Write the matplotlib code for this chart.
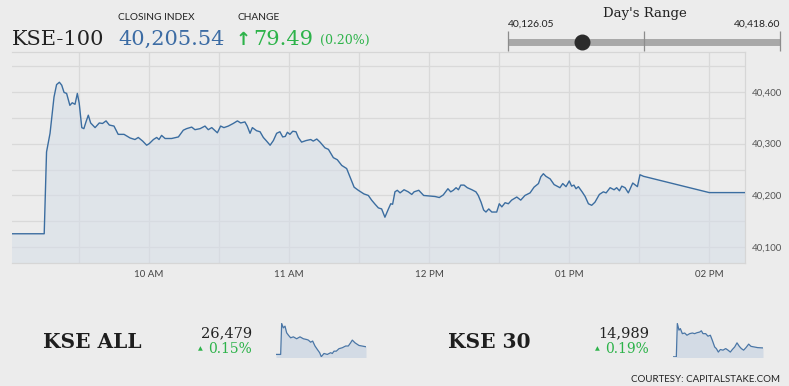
import numpy as np
import matplotlib
matplotlib.use("Agg")
import matplotlib.pyplot as plt
from matplotlib.ticker import FixedLocator, FuncFormatter

# --- data (minutes after 09:00, index level) ---
prev_close = 40126.05
day_high = 40418.60
close_val = 40205.54
change = 79.49
change_pct = 0.20

kse_t = [0, 15.1, 16.1, 17.6, 19.3, 20.4, 21.6, 22.6, 23.6, 24.7, 26.1, 27.1, 28.3, 29.3, 30.1,
         31.2, 32.1, 33.0, 34.0, 35.0, 36.9, 38.7, 40.1, 41.6, 43.0, 45.0, 46.8, 49.3, 51.9,
         54.0, 55.4, 57.3, 59.0, 60.1, 61.9, 63.3, 64.3, 65.4, 66.9, 69.7, 72.6, 74.7, 76.1,
         78.3, 79.7, 81.9, 84.0, 85.4, 86.9, 89.3, 90.7, 92.1, 94.0, 96.1, 97.9, 99.3, 101.1,
         102.1, 103.3, 104.3, 106.1, 107.6, 109.0, 110.4, 111.9, 113.3, 114.7, 116.1, 117.3,
         118.4, 119.3, 120.4, 121.6, 123.0, 124.0, 125.4, 127.3, 129.3, 130.4, 131.9, 133.3,
         135.4, 136.9, 139.0, 140.7, 142.6, 144.7, 146.1, 147.9, 149.7, 151.1, 152.1, 154.0,
         155.4, 156.9, 158.3, 159.7, 161.1, 162.6, 163.6, 164.4, 165.4, 166.4, 167.6, 169.3,
         171.1, 172.6, 173.6, 175.6, 177.7, 180.1, 182.6, 184.4, 186.1, 188.1, 189.3, 190.4,
         191.6, 192.6, 193.6, 195.0, 196.4, 198.4, 200.1, 201.1, 202.3, 203.4, 204.4, 205.6,
         206.9, 209.0, 210.1, 211.2, 212.6, 214.0, 215.4, 217.6, 219.3, 221.1, 223.3, 225.0,
         226.9, 227.9, 229.0, 230.1, 231.9, 233.6, 236.1, 237.3, 238.7, 240.1, 241.1, 242.1,
         243.0, 244.0, 245.6, 246.9, 248.3, 249.7, 251.1, 253.0, 254.7, 255.9, 257.6, 259.3,
         260.4, 261.6, 262.6, 264.0, 265.4, 267.3, 269.3, 270.4, 271.9, 300.1, 315.4]
kse_v = [40126.05, 40126.05, 40284, 40320, 40390, 40414, 40418.6, 40413, 40399, 40397, 40374,
         40379, 40376, 40397, 40378, 40331, 40329, 40342, 40355, 40340, 40331, 40340, 40339,
         40344, 40336, 40334, 40318, 40318, 40311, 40308, 40312, 40305, 40297, 40300, 40308,
         40312, 40308, 40316, 40310, 40310, 40313, 40326, 40329, 40332, 40327, 40329, 40334,
         40327, 40331, 40321, 40334, 40331, 40334, 40339, 40344, 40340, 40342, 40334, 40320,
         40331, 40325, 40323, 40312, 40305, 40297, 40306, 40320, 40323, 40313, 40314, 40322,
         40318, 40324, 40323, 40312, 40303, 40306, 40308, 40305, 40309, 40303, 40292, 40289,
         40273, 40269, 40258, 40252, 40236, 40216, 40210, 40206, 40203, 40200, 40191, 40183,
         40176, 40174, 40158, 40174, 40184, 40183, 40207, 40210, 40205, 40211, 40207, 40202,
         40207, 40210, 40200, 40199, 40198, 40196, 40201, 40213, 40207, 40210, 40215, 40211,
         40220, 40220, 40215, 40211, 40207, 40200, 40187, 40172, 40168, 40174, 40168, 40168,
         40184, 40178, 40186, 40184, 40191, 40197, 40191, 40200, 40205, 40216, 40223, 40236,
         40242, 40237, 40232, 40221, 40215, 40223, 40217, 40228, 40218, 40220, 40213, 40217,
         40207, 40198, 40184, 40181, 40187, 40202, 40207, 40205, 40215, 40211, 40215, 40209,
         40218, 40215, 40205, 40224, 40217, 40240, 40237, 40205.54, 40205.54]

hour_ticks = [60, 120, 180, 240, 300]
hour_labels = ["10 AM", "11 AM", "12 PM", "01 PM", "02 PM"]

all_close = "26,479"
all_pct = "0.15%"
all_t = [0, 16.3, 19.8, 25.6, 31.4, 37.2, 44.2, 51.2, 60.5, 72.1, 83.7, 95.4, 107.0, 112.8,
         120.9, 127.9, 136.0, 144.2, 152.3, 158.1, 167.4, 179.0, 190.7, 196.5, 202.3, 210.4,
         219.7, 231.3, 243.0, 252.3, 260.4, 266.2, 275.5, 289.5, 314.0]
all_v = [26439, 26439, 26601, 26578, 26587, 26552, 26538, 26526, 26531, 26521, 26531, 26521,
         26517, 26514, 26503, 26509, 26483, 26465, 26448, 26427, 26444, 26439, 26448, 26444,
         26456, 26456, 26469, 26474, 26483, 26483, 26500, 26514, 26500, 26486, 26479]

k30_close = "14,989"
k30_pct = "0.19%"
k30_t = [0, 11.6, 15.1, 20.9, 25.6, 32.6, 40.7, 48.8, 58.2, 67.5, 75.6, 83.7, 93.0, 98.9,
         104.7, 114.0, 122.1, 130.3, 137.2, 145.4, 151.2, 158.2, 165.2, 174.5, 183.8, 191.9,
         200.1, 207.0, 215.2, 223.3, 231.4, 238.4, 246.5, 254.7, 264.0, 272.1, 283.7, 295.3, 314.0]
k30_v = [14961, 14961, 15066, 15045, 15050, 15034, 15036, 15029, 15034, 15036, 15034, 15037,
         15039, 15043, 15034, 15034, 15026, 15029, 15013, 14992, 14987, 14976, 14984, 14982,
         14987, 14982, 14976, 14984, 14992, 15005, 14994, 14987, 14982, 14990, 15001, 14994,
         14992, 14990, 14989]

BG = "#ececec"
LINE = "#3b6da0"
GREEN = "#2db34a"
W, H = 789, 386


def px(x, y):
    return x / W, 1 - y / H


fig = plt.figure(figsize=(W / 100, H / 100), dpi=100, facecolor=BG)

# main chart
ax = fig.add_axes([12 / W, 1 - 263 / H, 733 / W, 211 / H])
ax.set_facecolor(BG)
ax.plot(kse_t, kse_v, color=LINE, lw=1.0, zorder=3)
ax.fill_between(kse_t, kse_v, 40000, color="#d6dee8", alpha=0.55, lw=0, zorder=2)
ax.set_xlim(1.3, 315.4)
ax.set_ylim(40069.6, 40477)
ax.xaxis.set_major_locator(FixedLocator(hour_ticks))
ax.xaxis.set_minor_locator(FixedLocator([30, 90, 150, 210, 270]))
ax.set_xticklabels(hour_labels)
ax.yaxis.set_major_locator(FixedLocator([40100, 40200, 40300, 40400]))
ax.yaxis.set_minor_locator(FixedLocator([40150, 40250, 40350, 40450]))
ax.yaxis.set_major_formatter(FuncFormatter(lambda v, p: f"{v:,.0f}"))
ax.grid(True, which="both", color="#d9d9d9", lw=0.9, zorder=0)
ax.tick_params(axis="both", which="both", length=0)
ax.tick_params(axis="x", labelsize=7, labelcolor="#444444", pad=5)
ax.tick_params(axis="y", left=False, labelleft=False, right=True, labelright=True,
               labelsize=7, labelcolor="#555555", pad=5)
for lab in ax.get_xticklabels() + ax.get_yticklabels():
    lab.set_fontfamily("Lato")
for s in ax.spines.values():
    s.set_color("#d6d6d6")
    s.set_linewidth(0.9)
ax.spines["left"].set_visible(False)

# header
fig.text(*px(12, 45), "KSE-100", family="DejaVu Serif", fontsize=15, color="#222222", va="baseline")
fig.text(*px(118, 20), "CLOSING INDEX", family="Lato", fontsize=7.3, color="#222222", va="baseline")
fig.text(*px(118, 45), f"{close_val:,.2f}", family="DejaVu Serif", fontsize=15, color="#3c6ca4",
         va="baseline")
fig.text(*px(237, 20), "CHANGE", family="Lato", fontsize=7.3, color="#222222", va="baseline")
fig.text(*px(236, 45), "\u2191", family="DejaVu Sans", fontsize=13, fontweight="bold", color=GREEN,
         va="baseline")
fig.text(*px(253, 45), f"{change:.2f}", family="DejaVu Serif", fontsize=15, color=GREEN, va="baseline")
fig.text(*px(320, 44), f"({change_pct:.2f}%)", family="DejaVu Serif", fontsize=9, color=GREEN,
         va="baseline")

# day's range
rax = fig.add_axes([508 / W, 1 - 52 / H, 272 / W, 22 / H])
rax.set_xlim(prev_close, day_high)
rax.set_ylim(0, 1)
rax.axis("off")
rax.plot([prev_close, day_high], [0.45, 0.45], color="#a8a8a8", lw=5, solid_capstyle="butt", zorder=1)
rax.vlines([prev_close, (prev_close + day_high) / 2, day_high], 0.05, 0.95, color="#8c8c8c", lw=0.9,
           zorder=2, clip_on=False)
rax.scatter([close_val], [0.45], s=110, color="#2b2b2b", zorder=3, clip_on=False)
fig.text(*px(645, 17), "Day's Range", family="DejaVu Serif", fontsize=9.5, color="#222222",
         ha="center", va="baseline")
fig.text(*px(508, 27), f"{prev_close:,.2f}", family="Lato", fontsize=7.5, color="#222222", va="baseline")
fig.text(*px(780, 27), f"{day_high:,.2f}", family="Lato", fontsize=7.5, color="#222222", ha="right",
         va="baseline")


# bottom mini panels
def mini(name, nx, value, pct, rx, t, v, box):
    fig.text(*px(nx, 348), name, family="DejaVu Serif", fontsize=14.5, fontweight="bold",
             color="#1e1e1e", va="baseline")
    fig.text(*px(rx, 337), value, family="DejaVu Serif", fontsize=10.5, color="#222222",
             ha="right", va="baseline")
    fig.text(*px(rx, 353), pct, family="DejaVu Serif", fontsize=10, color=GREEN, ha="right",
             va="baseline")
    fig.text(*px(rx - 52, 349), "\u25b2", family="DejaVu Sans", fontsize=4.5, color=GREEN,
             ha="center", va="center")
    sax = fig.add_axes(box)
    sax.plot(t, v, color="#4a76a6", lw=0.9)
    sax.fill_between(t, v, min(v) - 50, color="#d3dbe5", lw=0)
    sax.set_xlim(min(t), max(t))
    sax.set_ylim(min(v) - 1.5, max(v) + 2.5)
    sax.axis("off")


mini("KSE ALL", 43, all_close, all_pct, 252, all_t, all_v,
     [276 / W, 1 - 357 / H, 90 / W, 34 / H])
mini("KSE 30", 448, k30_close, k30_pct, 649, k30_t, k30_v,
     [673 / W, 1 - 357.3 / H, 90 / W, 34.6 / H])

fig.text(*px(780, 382), "COURTESY: CAPITALSTAKE.COM", family="Lato", fontsize=7, color="#222222",
         ha="right", va="baseline")

fig.savefig("out.png", dpi=100, facecolor=BG)
